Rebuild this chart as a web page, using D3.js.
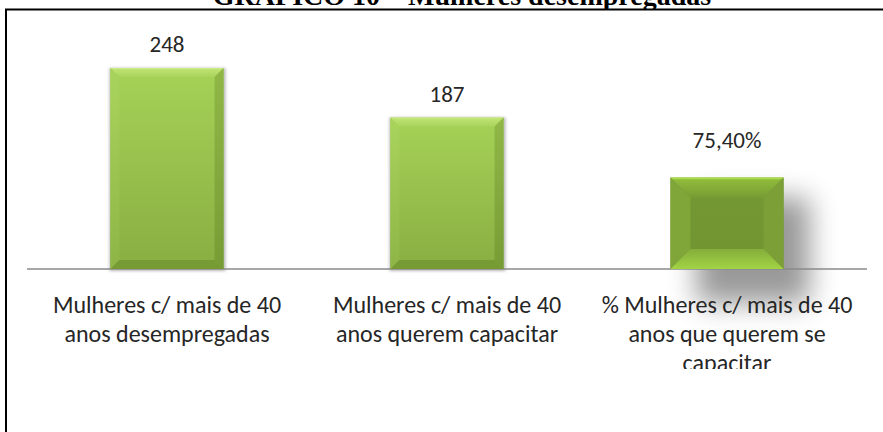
<!DOCTYPE html>
<html>
<head>
<meta charset="utf-8">
<script src="https://cdn.jsdelivr.net/npm/d3@7"></script>
<style>
  html, body { margin: 0; padding: 0; background: #fff; }
  svg { display: block; }
</style>
</head>
<body>
<svg id="chart" width="883" height="432"></svg>
<script>

//  Chart data
var title = 'GRÁFICO 10 – Mulheres desempregadas';
var categories = [
    ['Mulheres c/ mais de 40', 'anos desempregadas'],
    ['Mulheres c/ mais de 40', 'anos querem capacitar'],
    ['% Mulheres c/ mais de 40', 'anos que querem se', 'capacitar']
];
var values = [248, 187, 75.4];
var isPercent = [false, false, true];
var countDomain = [0, 300];
var percentDomain = [0, 200];

var width = 883, height = 432;
var svg = d3.select('#chart');
var defs = svg.append('defs');

//  pt-BR number formats
var locale = d3.formatLocale({ decimal: ',', thousands: '.', grouping: [3], currency: ['R$', ''] });
var fmtCount = locale.format('d');
var fmtPct = locale.format('.2f');

//  scales
var x = d3.scaleBand()
    .domain(d3.range(values.length))
    .range([27, 867])
    .paddingInner(0.596)
    .paddingOuter(0.298);

var yCount = d3.scaleLinear().domain(countDomain).range([269, 26]);
var yPct = d3.scaleLinear().domain(percentDomain).range([269, 26]);

function yFor(i) { return isPercent[i] ? yPct : yCount; }

//  gradients and filters
function linGrad(id, stops) {
    var g = defs.append('linearGradient').attr('id', id)
        .attr('x1', 0).attr('y1', 0).attr('x2', 0).attr('y2', 1);
    stops.forEach(function(s) {
        g.append('stop').attr('offset', s[0]).attr('stop-color', s[1]);
    });
}
linGrad('faceUp', [[0, '#a6d257'], [1, '#88ae42']]);
linGrad('topUp', [[0, '#d2f08e'], [0.15, '#bde271'], [1, '#a9d45c']]);
linGrad('leftUp', [[0, '#a9d45c'], [1, '#8db546']]);
linGrad('rightUp', [[0, '#8fb847'], [1, '#779c35']]);
linGrad('faceDown', [[0, '#749834'], [1, '#729431']]);
linGrad('topDown', [[0, '#c4f55a'], [0.12, '#8fbb3c'], [1, '#779c33']]);
linGrad('bottomDown', [[0, '#84ae3a'], [1, '#a2d345']]);

var blurBig = defs.append('filter').attr('id', 'shadowBig')
    .attr('x', '-60%').attr('y', '-60%').attr('width', '220%').attr('height', '220%');
blurBig.append('feGaussianBlur').attr('stdDeviation', 14);

var blurSmall = defs.append('filter').attr('id', 'shadowSmall')
    .attr('x', '-20%').attr('y', '-20%').attr('width', '140%').attr('height', '140%');
blurSmall.append('feGaussianBlur').attr('stdDeviation', 1.6);

defs.append('clipPath').attr('id', 'plotClip')
    .append('rect').attr('x', 0).attr('y', 0).attr('width', width).attr('height', 369);

//  title (mostly cut off by the chart frame)
svg.append('text')
    .attr('x', 462).attr('y', 5)
    .attr('text-anchor', 'middle')
    .style('font-family', '"Liberation Serif", "Times New Roman", serif')
    .style('font-weight', 'bold')
    .style('font-size', '28px')
    .attr('fill', '#000')
    .text(title);

//  chart area covers the title descenders
svg.append('rect')
    .attr('x', 6).attr('y', 9.5).attr('width', width).attr('height', height)
    .attr('fill', '#fff').attr('stroke', '#000').attr('stroke-width', 2);

var g = svg.append('g');

//  bar shadows
values.forEach(function(v, i) {
    var x0 = x(i), w = x.bandwidth(), y0 = yFor(i)(v), y1 = yFor(i)(0);
    if (isPercent[i]) {
        g.append('rect')
            .attr('x', x0 + 26).attr('y', y0 + 20)
            .attr('width', w).attr('height', y1 - y0 + 14)
            .attr('fill', '#000').attr('opacity', 0.4)
            .attr('filter', 'url(#shadowBig)');
    } else {
        g.append('rect')
            .attr('x', x0 - 1).attr('y', y0)
            .attr('width', w + 3).attr('height', y1 - y0 + 2)
            .attr('fill', '#000').attr('opacity', 0.28)
            .attr('filter', 'url(#shadowSmall)');
    }
});

//  category axis line
g.append('line')
    .attr('x1', x.range()[0]).attr('x2', x.range()[1])
    .attr('y1', yCount(0)).attr('y2', yCount(0))
    .attr('stroke', '#8a8a8a').attr('stroke-width', 1.5);

//  bevelled bars
function poly(pts) { return pts.map(function(p) { return p.join(','); }).join(' '); }

values.forEach(function(v, i) {
    var x0 = x(i), x1 = x0 + x.bandwidth();
    var y0 = yFor(i)(v), y1 = yFor(i)(0);
    var sunken = isPercent[i];
    var b = sunken ? 20 : 9;
    var bar = g.append('g').attr('class', 'bar');

    bar.append('rect')
        .attr('x', x0).attr('y', y0).attr('width', x1 - x0).attr('height', y1 - y0)
        .attr('fill', sunken ? 'url(#faceDown)' : 'url(#faceUp)');

    bar.append('polygon')   // top
        .attr('points', poly([[x0, y0], [x1, y0], [x1 - b, y0 + b], [x0 + b, y0 + b]]))
        .attr('fill', sunken ? 'url(#topDown)' : 'url(#topUp)');
    bar.append('polygon')   // left
        .attr('points', poly([[x0, y0], [x0 + b, y0 + b], [x0 + b, y1 - b], [x0, y1]]))
        .attr('fill', sunken ? '#80a63a' : 'url(#leftUp)');
    bar.append('polygon')   // right
        .attr('points', poly([[x1, y0], [x1, y1], [x1 - b, y1 - b], [x1 - b, y0 + b]]))
        .attr('fill', sunken ? '#7ca037' : 'url(#rightUp)');
    bar.append('polygon')   // bottom
        .attr('points', poly([[x0, y1], [x0 + b, y1 - b], [x1 - b, y1 - b], [x1, y1]]))
        .attr('fill', sunken ? 'url(#bottomDown)' : '#769a34');
});

//  value labels
var labelFont = 'Carlito, Calibri, Lato, "Open Sans", sans-serif';
g.selectAll('text.value')
    .data(values)
    .enter().append('text')
    .attr('class', 'value')
    .attr('x', function(d, i) { return x(i) + x.bandwidth() / 2; })
    .attr('y', function(d, i) { return yFor(i)(d) - (isPercent[i] ? 29 : 16); })
    .attr('text-anchor', 'middle')
    .style('font-family', labelFont)
    .style('font-size', '23px')
    .attr('fill', '#262626')
    .text(function(d, i) { return isPercent[i] ? fmtPct(d) + '%' : fmtCount(d); });

//  category labels
var cats = g.append('g').attr('clip-path', 'url(#plotClip)');
categories.forEach(function(lines, i) {
    var t = cats.append('text')
        .attr('text-anchor', 'middle')
        .style('font-family', labelFont)
        .style('font-size', '24px')
        .attr('fill', '#262626');
    lines.forEach(function(line, j) {
        t.append('tspan')
            .attr('x', x(i) + x.bandwidth() / 2)
            .attr('y', 313 + j * 29)
            .text(line);
    });
});

</script>
</body>
</html>
